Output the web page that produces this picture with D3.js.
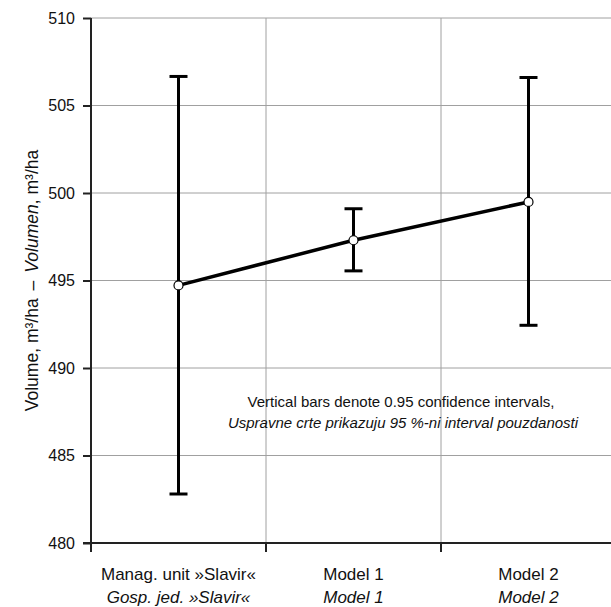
<!DOCTYPE html>
<html>
<head>
<meta charset="utf-8">
<script src="https://cdn.jsdelivr.net/npm/d3@7"></script>
<style>
  body { margin: 0; background: #fff; }
  svg { display: block; font-family: "Liberation Sans", Arial, sans-serif; }
</style>
</head>
<body>
<svg></svg>
<script>
// data
let categories = ['Manag. unit »Slavir«', 'Model 1', 'Model 2']
let categoriesHr = ['Gosp. jed. »Slavir«', 'Model 1', 'Model 2']
let means = [494.72, 497.3, 499.49]
let upper = [506.66, 499.1, 506.6]
let lower = [482.8, 495.55, 492.44]
let yTicks = [480, 485, 490, 495, 500, 505, 510]

let width = 611
let height = 607
let margin = { left: 91, top: 18, right: -5, bottom: 64 }

let svg = d3.select('svg')
    .attr('width', width)
    .attr('height', height)

let x = d3.scaleBand()
          .domain(categories)
          .range([margin.left, width - margin.right])

let y = d3.scaleLinear()
          .domain([480, 510])
          .range([height - margin.bottom, margin.top])

// grid
svg.append('g')
  .selectAll('line')
  .data(yTicks.slice(1))
  .enter()
  .append('line')
    .attr('x1', margin.left)
    .attr('x2', width)
    .attr('y1', d => y(d))
    .attr('y2', d => y(d))
    .attr('stroke', '#a0a0a0')
    .attr('stroke-width', 1)

svg.append('g')
  .selectAll('line')
  .data(categories.slice(1))
  .enter()
  .append('line')
    .attr('x1', d => x(d))
    .attr('x2', d => x(d))
    .attr('y1', margin.top)
    .attr('y2', y(480))
    .attr('stroke', '#a0a0a0')
    .attr('stroke-width', 1)

// axes
let yAxis = svg.append('g')
    .attr('transform', `translate(${margin.left},0)`)
    .call(d3.axisLeft(y).tickValues(yTicks).tickSize(8).tickPadding(8))
yAxis.select('.domain').attr('stroke', '#222').attr('stroke-width', 2)
  .attr('d', `M0,${y(510)}V${y(480) + 9}`)
yAxis.selectAll('.tick line').attr('stroke', '#222').attr('stroke-width', 2)
yAxis.selectAll('.tick text')
    .style('font-size', '16px')
    .style('font-family', '"Liberation Sans", Arial, sans-serif')
    .attr('fill', '#111')

let xAxis = svg.append('g')
    .attr('transform', `translate(0,${y(480)})`)
xAxis.append('line')
    .attr('x1', margin.left - 8)
    .attr('x2', width)
    .attr('stroke', '#222')
    .attr('stroke-width', 2)
xAxis.selectAll('.xt')
  .data(categories)
  .enter()
  .append('line')
    .attr('x1', d => x(d))
    .attr('x2', d => x(d))
    .attr('y1', 0)
    .attr('y2', 9)
    .attr('stroke', '#222')
    .attr('stroke-width', 2)

let labels = xAxis.selectAll('.xl')
  .data(categories)
  .enter()
  .append('text')
    .attr('x', d => x(d) + x.bandwidth() / 2)
    .attr('text-anchor', 'middle')
    .attr('font-size', 17)
    .attr('fill', '#111')
labels.append('tspan')
    .attr('y', 37)
    .text(d => d)
labels.append('tspan')
    .attr('x', d => x(d) + x.bandwidth() / 2)
    .attr('y', 60)
    .attr('font-style', 'italic')
    .text((d, i) => categoriesHr[i])

// y axis title
let yTitle = svg.append('text')
    .attr('transform', `translate(38,${(y(480) + y(510)) / 2}) rotate(-90)`)
    .attr('text-anchor', 'middle')
    .attr('font-size', 17.5)
    .attr('fill', '#111')
yTitle.append('tspan').text('Volume, m³/ha')
yTitle.append('tspan').attr('dx', 8).text('–')
yTitle.append('tspan').attr('dx', 8).attr('font-style', 'italic').text('Volumen')
yTitle.append('tspan').text(', m³/ha')

// error bars
let cx = d => x(d) + x.bandwidth() / 2
let bars = svg.append('g')
  .selectAll('g')
  .data(categories)
  .enter()
  .append('g')
bars.append('line')
    .attr('x1', cx).attr('x2', cx)
    .attr('y1', (d, i) => y(upper[i]))
    .attr('y2', (d, i) => y(lower[i]))
    .attr('stroke', '#000')
    .attr('stroke-width', 3)
bars.append('line')
    .attr('x1', d => cx(d) - 9).attr('x2', d => cx(d) + 9)
    .attr('y1', (d, i) => y(upper[i]))
    .attr('y2', (d, i) => y(upper[i]))
    .attr('stroke', '#000')
    .attr('stroke-width', 3)
bars.append('line')
    .attr('x1', d => cx(d) - 9).attr('x2', d => cx(d) + 9)
    .attr('y1', (d, i) => y(lower[i]))
    .attr('y2', (d, i) => y(lower[i]))
    .attr('stroke', '#000')
    .attr('stroke-width', 3)

// mean line
let line = d3.line()
              .x((d, i) => cx(categories[i]))
              .y(d => y(d))
svg.append('path')
    .attr('d', line(means))
    .attr('fill', 'none')
    .attr('stroke', '#000')
    .attr('stroke-width', 3.5)

svg.append('g')
  .selectAll('circle')
  .data(means)
  .enter()
  .append('circle')
    .attr('cx', (d, i) => cx(categories[i]))
    .attr('cy', d => y(d))
    .attr('r', 4.5)
    .attr('fill', '#fff')
    .attr('stroke', '#000')
    .attr('stroke-width', 1.2)

// note
let note = svg.append('text')
    .attr('text-anchor', 'middle')
    .attr('font-size', 15)
    .attr('fill', '#111')
note.append('tspan')
    .attr('x', 401).attr('y', 407)
    .text('Vertical bars denote 0.95 confidence intervals,')
note.append('tspan')
    .attr('x', 403).attr('y', 428)
    .attr('font-style', 'italic')
    .text('Uspravne crte prikazuju 95 %-ni interval pouzdanosti')
</script>
</body>
</html>
